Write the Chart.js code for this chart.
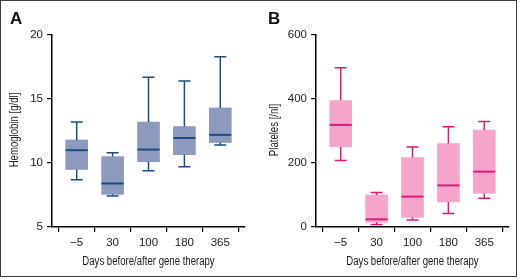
<!DOCTYPE html>
<html>
<head>
<meta charset="utf-8">
<script src="https://cdn.jsdelivr.net/npm/chart.js@4"></script>
<style>
  body { margin: 0; background: #fff; }
  #wrap { position: relative; width: 520px; height: 279px; }
  canvas { position: absolute; top: 0; }
  #marco { position: absolute; left: 0; top: 0; width: 517px; height: 277px; box-sizing: border-box; border: 1px solid #3c3c3c; pointer-events: none; }
</style>
</head>
<body>
<div id="wrap">
  <canvas id="graficoA" width="260" height="279" style="left:0"></canvas>
  <canvas id="graficoB" width="260" height="279" style="left:260px"></canvas>
  <div id="marco"></div>
</div>
<script>
// dias respecto a la terapia genica
const dias = ['\u22125', '30', '100', '180', '365'];

// hemoglobina [g/dl]
const hbMin = [8.7, 7.42, 9.4, 9.7, 11.4];
const hbQ1 = [9.5, 7.55, 10.1, 10.65, 11.6];
const hbMediana = [11.0, 8.4, 11.05, 11.95, 12.2];
const hbQ3 = [11.8, 10.5, 13.2, 12.85, 14.3];
const hbMax = [13.2, 10.8, 16.7, 16.4, 18.3];
const hbTicks = [5, 10, 15, 20];

// plaquetas [/nl]
const pltMin = [208, 8, 22, 42, 90];
const pltQ1 = [250, 15, 30, 78, 105];
const pltMediana = [319, 24, 95, 130, 173];
const pltQ3 = [395, 100, 217, 261, 303];
const pltMax = [498, 108, 250, 313, 330];
const pltTicks = [0, 200, 400, 600];

const tituloX = 'Days before/after gene therapy';

const fuenteTicks = { family: "'Liberation Sans', Arial, sans-serif", size: 11.5 };

//bigotes y medianas
const bigotes = {
    id: 'bigotes',
    afterDatasetsDraw(chart, args, opts) {
        const ctx = chart.ctx;
        const xs = chart.scales.x;
        const ys = chart.scales.y;
        ctx.save();
        ctx.strokeStyle = opts.color;
        for (let i = 0; i < dias.length; i++) {
            const x = xs.getPixelForValue(i);
            const yMin = ys.getPixelForValue(opts.min[i]);
            const yQ1 = ys.getPixelForValue(opts.q1[i]);
            const yQ3 = ys.getPixelForValue(opts.q3[i]);
            const yMax = ys.getPixelForValue(opts.max[i]);
            const yMed = ys.getPixelForValue(opts.med[i]);
            ctx.lineWidth = 1.5;
            ctx.beginPath();
            ctx.moveTo(x, yQ3); ctx.lineTo(x, yMax);
            ctx.moveTo(x - 6, yMax); ctx.lineTo(x + 6, yMax);
            ctx.moveTo(x, yQ1); ctx.lineTo(x, yMin);
            ctx.moveTo(x - 6, yMin); ctx.lineTo(x + 6, yMin);
            ctx.stroke();
            ctx.lineWidth = 2;
            ctx.beginPath();
            ctx.moveTo(x - 11, yMed); ctx.lineTo(x + 11, yMed);
            ctx.stroke();
        }
        ctx.restore();
    }
};

// letra del panel y titulos estrechos (no hay fuente condensada instalada)
const textos = {
    id: 'textos',
    afterDraw(chart, args, opts) {
        const ctx = chart.ctx;
        const area = chart.chartArea;
        ctx.save();
        ctx.fillStyle = '#111';
        ctx.font = "bold 17px 'Liberation Sans', Arial, sans-serif";
        ctx.textBaseline = 'alphabetic';
        ctx.fillText(opts.letra, opts.letraX, 24);

        ctx.fillStyle = '#222';
        ctx.font = "12px 'Liberation Sans', Arial, sans-serif";
        ctx.textAlign = 'center';
        ctx.textBaseline = 'middle';

        ctx.save();
        ctx.translate((area.left + area.right) / 2, 262);
        ctx.scale(0.8, 1);
        ctx.fillText(tituloX, 0, 0);
        ctx.restore();

        ctx.save();
        ctx.translate(15, (area.top + area.bottom) / 2 - 1);
        ctx.rotate(-Math.PI / 2);
        ctx.scale(0.8, 1);
        ctx.fillText(opts.tituloY, 0, 0);
        ctx.restore();

        ctx.restore();
    }
};

function crearGrafico(id, cfg) {
    const datos = dias.map((d, i) => ({ x: i, y: [cfg.q1[i], cfg.q3[i]] }));
    return new Chart(document.getElementById(id), {
        type: 'bar',
        data: {
            datasets: [{
                data: datos,
                backgroundColor: cfg.relleno,
                borderWidth: 0,
                barThickness: 22
            }]
        },
        options: {
            responsive: false,
            animation: false,
            layout: { padding: { left: 0, right: cfg.derecha, top: 35, bottom: 0 } },
            plugins: {
                legend: { display: false },
                tooltip: { enabled: false },
                bigotes: { color: cfg.linea, min: cfg.min, q1: cfg.q1, med: cfg.med, q3: cfg.q3, max: cfg.max },
                textos: { letra: cfg.letra, letraX: cfg.letraX, tituloY: cfg.tituloY }
            },
            scales: {
                x: {
                    type: 'linear',
                    offset: false,
                    min: -0.688,
                    max: 4.688,
                    afterBuildTicks: (s) => { s.ticks = dias.map((d, i) => ({ value: i })); },
                    afterFit: (s) => { s.height = 52; },
                    ticks: {
                        callback: (v) => dias[v],
                        font: fuenteTicks,
                        color: '#222',
                        padding: 4,
                        maxRotation: 0
                    },
                    grid: { drawOnChartArea: false, drawTicks: true, tickLength: 5, color: '#000', lineWidth: 1.2 },
                    border: { color: '#000', width: 1.5 }
                },
                y: {
                    min: cfg.ticks[0],
                    max: cfg.ticks[cfg.ticks.length - 1],
                    afterBuildTicks: (s) => { s.ticks = cfg.ticks.map(v => ({ value: v })); },
                    afterFit: (s) => { s.width = cfg.ancho; },
                    ticks: { font: fuenteTicks, color: '#222', padding: 4 },
                    grid: { drawOnChartArea: false, drawTicks: true, tickLength: 5, color: '#000', lineWidth: 1.2 },
                    border: { color: '#000', width: 1.5 }
                }
            }
        },
        plugins: [bigotes, textos]
    });
}

crearGrafico('graficoA', {
    min: hbMin, q1: hbQ1, med: hbMediana, q3: hbQ3, max: hbMax, ticks: hbTicks,
    relleno: '#8d99bd', linea: '#1b4c7e', tituloY: 'Hemoglobin [g/dl]',
    ancho: 52, derecha: 15, letra: 'A', letraX: 10
});

crearGrafico('graficoB', {
    min: pltMin, q1: pltQ1, med: pltMediana, q3: pltQ3, max: pltMax, ticks: pltTicks,
    relleno: '#f4a5c9', linea: '#e0187b', tituloY: 'Plateles [/nl]',
    ancho: 56, derecha: 11, letra: 'B', letraX: 8
});
</script>
</body>
</html>
